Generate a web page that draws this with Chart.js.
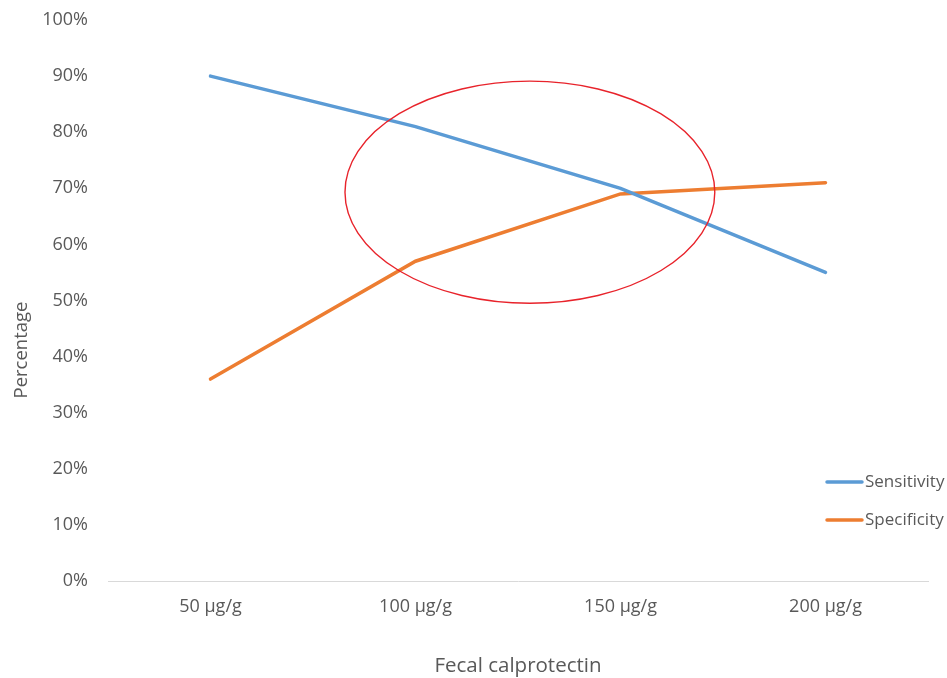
<!DOCTYPE html>
<html>
<head>
<meta charset="utf-8">
<title>Fecal calprotectin cut-offs</title>
<script src="https://cdn.jsdelivr.net/npm/chart.js@4.4.1/dist/chart.umd.min.js"></script>
<style>
  html, body { margin: 0; padding: 0; background: #ffffff; }
  #wrap { width: 947px; height: 678px; position: relative; }
</style>
</head>
<body>
<div id="wrap"><canvas id="chart" width="947" height="678"></canvas></div>
<script>
// Cut-off values on the x axis
const cutoffs = ['50 µg/g', '100 µg/g', '150 µg/g', '200 µg/g'];
// Diagnostic performance (%) at each cut-off
const sensitivity = [90, 81, 70, 55];
const specificity = [36, 57, 69, 71];
// Y axis tick values (%)
const yTicks = [0, 10, 20, 30, 40, 50, 60, 70, 80, 90, 100];
// Highlight ellipse around the crossing zone (category index / percent units)
const highlight = { cx: 1.558, cy: 69.3, rx: 0.902, ry: 19.8 };

const FONT = "'Open Sans', Lato, 'Liberation Sans', sans-serif";
const TEXT = '#595959';

// Ellipse marking the region where the two curves cross
const ellipsePlugin = {
  id: 'highlightEllipse',
  afterDatasetsDraw(chart) {
    const x = chart.scales.x, y = chart.scales.y, ctx = chart.ctx;
    const cx = x.getPixelForValue(highlight.cx);
    const cy = y.getPixelForValue(highlight.cy);
    const rx = Math.abs(x.getPixelForValue(highlight.cx + highlight.rx) - cx);
    const ry = Math.abs(y.getPixelForValue(highlight.cy + highlight.ry) - cy);
    ctx.save();
    ctx.beginPath();
    ctx.ellipse(cx, cy, rx, ry, 0, 0, Math.PI * 2);
    ctx.strokeStyle = '#e8232b';
    ctx.lineWidth = 1.4;
    ctx.stroke();
    ctx.restore();
  }
};

// Legend entries stacked at the lower right, plus the rotated y title
const sideLegendPlugin = {
  id: 'sideLegend',
  afterDraw(chart) {
    const ctx = chart.ctx;
    ctx.save();
    ctx.font = '17px ' + FONT;
    ctx.textBaseline = 'middle';
    ctx.textAlign = 'left';
    chart.data.datasets.forEach((ds, i) => {
      const yy = 482 + i * 38;
      ctx.beginPath();
      ctx.moveTo(827, yy);
      ctx.lineTo(862, yy);
      ctx.strokeStyle = ds.borderColor;
      ctx.lineWidth = 3.5;
      ctx.lineCap = 'round';
      ctx.stroke();
      ctx.fillStyle = TEXT;
      ctx.fillText(ds.label, 865, yy);
    });
    // y axis title
    ctx.translate(22, 350);
    ctx.rotate(-Math.PI / 2);
    ctx.textAlign = 'center';
    ctx.font = '18.5px ' + FONT;
    ctx.fillStyle = TEXT;
    ctx.fillText('Percentage', 0, 0);
    ctx.restore();
  }
};

new Chart(document.getElementById('chart'), {
  type: 'line',
  data: {
    labels: cutoffs,
    datasets: [
      { label: 'Sensitivity', data: sensitivity, borderColor: '#5b9bd5', backgroundColor: '#5b9bd5',
        borderWidth: 3.5, pointRadius: 0, tension: 0, borderCapStyle: 'round' },
      { label: 'Specificity', data: specificity, borderColor: '#ed7d31', backgroundColor: '#ed7d31',
        borderWidth: 3.5, pointRadius: 0, tension: 0, borderCapStyle: 'round' }
    ]
  },
  options: {
    responsive: false,
    animation: false,
    devicePixelRatio: 1,
    layout: { padding: { top: 20, right: 19, left: 0, bottom: 0 } },
    plugins: {
      legend: { display: false },
      tooltip: { enabled: false }
    },
    scales: {
      x: {
        offset: true,
        grid: { display: false, drawTicks: false, tickLength: 0 },
        border: { display: true, color: '#d9d9d9', width: 1 },
        ticks: { color: TEXT, font: { family: FONT, size: 18 }, padding: 15, maxRotation: 0 },
        title: { display: true, text: 'Fecal calprotectin', color: TEXT,
                 font: { family: FONT, size: 20.5 }, padding: { top: 0, bottom: 0 } },
        afterFit(scale) { scale.height = 97; scale.paddingLeft = 0; scale.paddingRight = 0; }
      },
      y: {
        min: 0, max: 100,
        grid: { display: false, drawTicks: false, tickLength: 0 },
        border: { display: false },
        afterBuildTicks(scale) { scale.ticks = yTicks.map(v => ({ value: v })); },
        ticks: { color: TEXT, font: { family: FONT, size: 18 }, padding: 20,
                 callback: v => v + '%' },
        afterFit(scale) { scale.width = 108; scale.paddingTop = 0; scale.paddingBottom = 0; }
      }
    }
  },
  plugins: [ellipsePlugin, sideLegendPlugin]
});
</script>
</body>
</html>
